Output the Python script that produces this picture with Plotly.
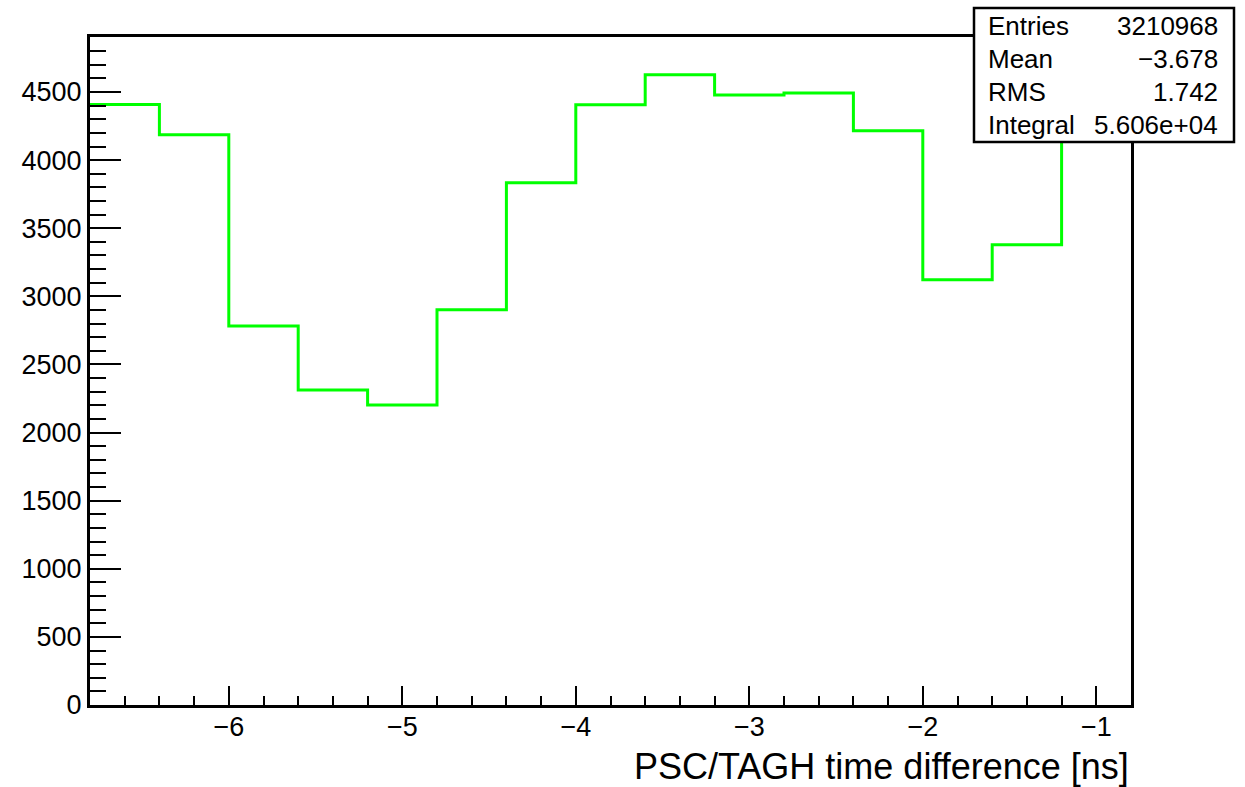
import plotly.graph_objects as go

# Data
bin_edges = [-6.8, -6.4, -6.0, -5.6, -5.2, -4.8, -4.4, -4.0, -3.6, -3.2,
             -2.8, -2.4, -2.0, -1.6, -1.2, -0.8]
counts = [4409, 4186, 2783, 2313, 2203, 2901, 3834, 4407, 4627, 4478,
          4492, 4216, 3121, 3378, 4670]
stats_labels = ["Entries", "Mean", "RMS", "Integral"]
stats_values = ["3210968", "\u22123.678", "1.742", "5.606e+04"]
x_title = "PSC/TAGH time difference [ns]"

W, H = 1245, 787
L, R, T, B = 90, 114, 37, 82
pw, ph = W - L - R, H - T - B

def px(x):
    return (x - L) / pw

def py(y):
    return (H - B - y) / ph

font = "Liberation Sans, Arial, Helvetica, sans-serif"
tickfont = dict(family=font, size=27, color="black")

fig = go.Figure()
fig.add_trace(go.Scatter(
    x=bin_edges, y=counts + [counts[-1]], mode="lines",
    line=dict(color="#00ff00", width=3, shape="hv"),
    showlegend=False, hoverinfo="skip"))

fig.update_layout(
    width=W, height=H, margin=dict(l=L, r=R, t=T, b=B),
    paper_bgcolor="white", plot_bgcolor="white",
    font=dict(family=font, size=27, color="black"),
    xaxis=dict(range=[-6.8, -0.8], tickmode="array", tickvals=[-6, -5, -4, -3, -2, -1],
               tickfont=tickfont, ticklabelstandoff=-4,
               ticks="inside", ticklen=19, tickwidth=2, tickcolor="black",
               showgrid=False, zeroline=False, showline=True, linecolor="black",
               linewidth=3, mirror=True,
               minor=dict(dtick=0.2, tick0=-6, ticks="inside", ticklen=9,
                          tickwidth=2, tickcolor="black", showgrid=False)),
    yaxis=dict(range=[0, 4904], dtick=500, tick0=0, tickfont=tickfont,
               ticks="inside", ticklen=31, tickwidth=2, tickcolor="black",
               showgrid=False, zeroline=False, showline=True, linecolor="black",
               linewidth=3, mirror=True,
               minor=dict(dtick=100, ticks="inside", ticklen=16,
                          tickwidth=2, tickcolor="black", showgrid=False)),
)

fig.add_annotation(text=x_title, xref="paper", yref="paper",
                   x=px(1131), y=py(767), xanchor="right", yanchor="middle",
                   showarrow=False, font=dict(size=36, family=font))

# stats box
fig.add_shape(type="rect", xref="paper", yref="paper",
              x0=px(974), x1=px(1234), y0=py(142), y1=py(8),
              fillcolor="white", line=dict(color="black", width=2.5), layer="above")
ys = [26, 59, 92, 125]
for lab, val, yy in zip(stats_labels, stats_values, ys):
    fig.add_annotation(text=lab, xref="paper", yref="paper", x=px(986), y=py(yy),
                       xanchor="left", yanchor="middle", showarrow=False,
                       font=dict(size=26, family=font))
    fig.add_annotation(text=val, xref="paper", yref="paper", x=px(1220), y=py(yy),
                       xanchor="right", yanchor="middle", showarrow=False,
                       font=dict(size=26, family=font))

fig.write_html("out.html")
